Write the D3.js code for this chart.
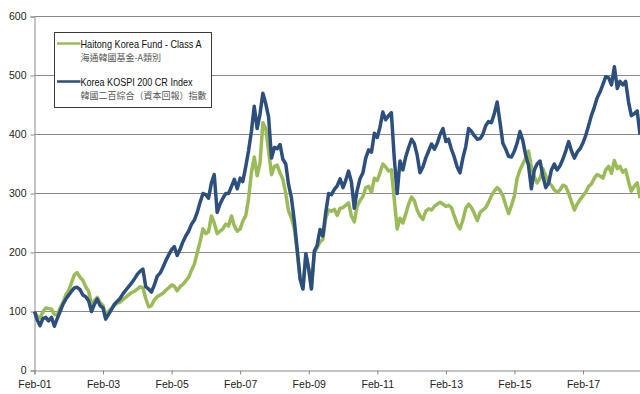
<!DOCTYPE html>
<html>
<head>
<meta charset="utf-8">
<script src="https://cdn.jsdelivr.net/npm/d3@7"></script>
<style>
  html, body { margin: 0; padding: 0; background: #fff; }
  svg { display: block; }
</style>
</head>
<body>
<svg id="chart" width="640" height="394"></svg>
<script>
// Monthly rebased values (Feb 2001 = 100), one value per month from Feb 2001
const startMonth = new Date(2001, 1, 1);

const seriesNames = [
  ["Haitong Korea Fund - Class A", "海通韓國基金-A類別"],
  ["Korea KOSPI 200 CR Index", "韓國二百綜合（資本回報）指數"]
];

const fundValues = [
  100, 92, 89, 99, 106, 105, 104, 95, 94, 106, 115, 128,
  136, 148, 162, 166, 158, 153, 142, 134, 112, 118, 124, 115,
  110, 95, 100, 105, 110, 114, 116, 120, 124, 128, 132, 134,
  138, 142, 140, 122, 108, 110, 120, 125, 128, 131, 136, 140,
  145, 143, 135, 142, 146, 152, 158, 170, 180, 200, 218, 240,
  232, 235, 262, 250, 232, 236, 240, 248, 245, 262, 245, 236,
  240, 253, 262, 290, 335, 362, 330, 352, 420, 410, 372, 332,
  346, 348, 335, 324, 300, 270, 258, 240, 200, 155, 140, 195,
  170, 140, 198, 208, 218, 222, 258, 272, 270, 273, 263, 275,
  276, 280, 284, 262, 252, 278, 288, 295, 310, 312, 302, 326,
  322, 335, 350, 345, 338, 340, 290, 240, 258, 250, 265, 282,
  294, 288, 272, 262, 256, 270, 274, 272, 278, 282, 285, 282,
  278, 280, 276, 262, 248, 240, 255, 275, 282, 276, 266, 254,
  268, 272, 276, 285, 296, 304, 310, 305, 296, 280, 266, 280,
  296, 325, 340, 350, 360, 372, 345, 328, 318, 326, 342, 330,
  318, 314, 306, 302, 306, 314, 312, 300, 286, 272, 282, 290,
  296, 302, 312, 316, 326, 332, 330, 326, 340, 346, 334, 356,
  342, 346, 336, 340, 320, 304, 312, 318, 292
];

const indexValues = [
  100, 86, 76, 88, 90, 84, 90, 75, 88, 100, 112, 121,
  128, 134, 140, 141, 137, 128, 125, 118, 100, 112, 121, 110,
  106, 87, 95, 103, 112, 117, 122, 130, 136, 142, 148, 155,
  163, 168, 172, 142, 138, 133, 145, 160, 165, 175, 186, 196,
  205, 210, 195, 205, 218, 228, 236, 248, 255, 268, 285, 300,
  298, 292, 318, 332, 268, 282, 292, 300, 300, 312, 324, 308,
  326, 320, 345, 372, 405, 448, 410, 435, 470, 452, 430, 360,
  378, 376, 383, 358, 350, 315, 292, 252, 205, 155, 138, 198,
  172, 138, 202, 212, 239, 228, 268, 300, 298, 307, 313, 325,
  310, 322, 338, 320, 275, 305, 325, 335, 360, 374, 370, 402,
  395, 412, 438, 425, 432, 437, 360, 300, 355, 340, 362, 378,
  392, 385, 365, 335, 345, 360, 372, 384, 375, 385, 400, 410,
  388, 392, 375, 362, 345, 335, 360, 380, 410, 405, 398, 392,
  393, 400, 415, 422, 420, 435, 455, 420, 385, 375, 363, 362,
  372, 385, 405, 390, 365, 348, 308, 340, 350, 355, 330, 310,
  318, 340, 350, 340, 347, 358, 372, 388, 372, 360, 370, 376,
  386, 398, 415, 432, 446, 462, 472, 485, 498, 496, 484, 515,
  478, 490, 484, 490, 455, 432, 435, 440, 400
];

const xTickLabels = ["Feb-01", "Feb-03", "Feb-05", "Feb-07", "Feb-09", "Feb-11", "Feb-13", "Feb-15", "Feb-17"];
const xTickYears = [2001, 2003, 2005, 2007, 2009, 2011, 2013, 2015, 2017];
const yTicks = [0, 100, 200, 300, 400, 500, 600];

const colors = { fund: "#9bbb59", index: "#2c4f7e", grid: "#8a8a8a" };

const svg = d3.select("#chart");
const plotLeft = 34.5, plotRight = 640, plotBottom = 370.5, plotTop = 16.5;

const dates = fundValues.map((_, i) => d3.timeMonth.offset(startMonth, i));
const x = d3.scaleTime().domain([dates[0], dates[dates.length - 1]]).range([plotLeft, plotRight]);
const y = d3.scaleLinear().domain([0, 600]).range([plotBottom, plotTop]);

// horizontal gridlines
svg.append("g")
  .selectAll("line")
  .data(yTicks.filter(v => v > 0))
  .join("line")
  .attr("x1", plotLeft).attr("x2", plotRight)
  .attr("y1", d => y(d)).attr("y2", d => y(d))
  .attr("stroke", colors.grid).attr("stroke-width", 1);

// y axis
const yAxis = svg.append("g")
  .attr("transform", `translate(${plotLeft},0)`)
  .call(d3.axisLeft(y).tickValues(yTicks).tickSize(4).tickPadding(4).tickFormat(d3.format("d")));
yAxis.select(".domain").attr("stroke", colors.grid);
yAxis.selectAll(".tick line").attr("stroke", colors.grid);
yAxis.selectAll("text")
  .attr("font-family", "'Liberation Sans', Arial, sans-serif")
  .attr("font-size", 10.5).attr("fill", "#222");

// x axis
const tickDates = xTickYears.map(yr => new Date(yr, 1, 1));
const xAxis = svg.append("g")
  .attr("transform", `translate(0,${plotBottom})`)
  .call(d3.axisBottom(x).tickValues(tickDates).tickSize(4).tickPadding(6)
    .tickFormat((d, i) => xTickLabels[i]));
xAxis.select(".domain").attr("stroke", colors.grid);
xAxis.selectAll(".tick line").attr("stroke", colors.grid);
xAxis.selectAll("text")
  .attr("font-family", "'Liberation Sans', Arial, sans-serif")
  .attr("font-size", 10.5).attr("fill", "#222");

// series lines
const line = d3.line().x((d, i) => x(dates[i])).y(d => y(d));
svg.append("path")
  .datum(fundValues)
  .attr("d", line)
  .attr("fill", "none").attr("stroke", colors.fund)
  .attr("stroke-width", 3.5).attr("stroke-linejoin", "round");
svg.append("path")
  .datum(indexValues)
  .attr("d", line)
  .attr("fill", "none").attr("stroke", colors.index)
  .attr("stroke-width", 3.5).attr("stroke-linejoin", "round");

// legend
const lg = svg.append("g");
lg.append("rect")
  .attr("x", 54.5).attr("y", 32.5).attr("width", 157).attr("height", 75)
  .attr("fill", "#fff").attr("stroke", "#3a3a3a").attr("stroke-width", 1);
const legendItems = [
  { color: colors.fund, names: seriesNames[0], ly: 43.5, w: 121 },
  { color: colors.index, names: seriesNames[1], ly: 81.5, w: 112 }
];
legendItems.forEach(it => {
  lg.append("line")
    .attr("x1", 57).attr("x2", 80.5).attr("y1", it.ly).attr("y2", it.ly)
    .attr("stroke", it.color).attr("stroke-width", 2.5);
  lg.append("text")
    .attr("x", 80.5).attr("y", it.ly + 4.2)
    .attr("font-family", "'Liberation Sans', Arial, sans-serif")
    .attr("font-size", 11).attr("fill", "#111")
    .attr("textLength", it.w).attr("lengthAdjust", "spacingAndGlyphs")
    .text(it.names[0]);
  lg.append("text")
    .attr("x", 80.5).attr("y", it.ly + 17.5)
    .attr("font-family", "'Noto Sans CJK TC', 'Noto Sans CJK SC', sans-serif")
    .attr("font-size", 9).attr("fill", "#555")
    .text(it.names[1]);
});
</script>
</body>
</html>
